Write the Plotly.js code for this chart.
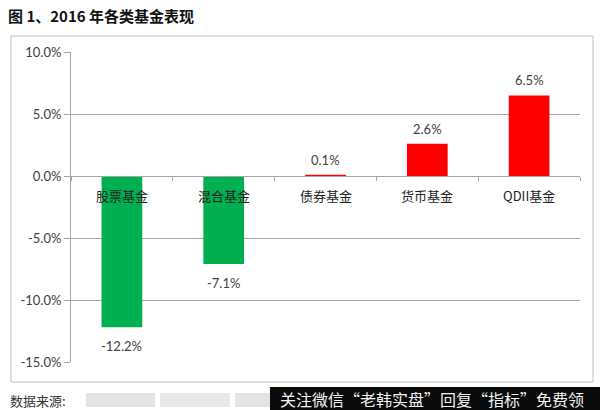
<!DOCTYPE html>
<html><head><meta charset="utf-8">
<script src="https://cdn.plot.ly/plotly-3.0.1.min.js"></script>
<style>html,body{margin:0;padding:0;background:#fff;}#chart{width:600px;height:410px;}</style>
</head><body><div id="chart"></div>
<script>
const categories = ['股票基金', '混合基金', '债券基金', '货币基金', 'QDII基金'];
const values = [-12.2, -7.1, 0.1, 2.6, 6.5];
const barColors = ['#00B050', '#00B050', '#FF0000', '#FF0000', '#FF0000'];
const yTicks = [-15, -10, -5, 0, 5, 10];
const yTickText = yTicks.map(v => v.toFixed(1) + '%');

const L = 71, R = 20, T = 52, B = 48, W = 600, H = 410;
const pw = W - L - R, ph = H - T - B;
const px = x => (x - L) / pw;
const py = y => (H - B - y) / ph;

const font = '"Noto Sans CJK SC", "Noto Sans", sans-serif';
const numFont = 'Lato, "Open Sans", sans-serif';

const trace = {
  type: 'bar', x: categories, y: values,
  marker: {color: barColors, line: {width: 0}},
  hoverinfo: 'skip'
};

const annotations = categories.map(c => ({
  x: c, y: 0, xref: 'x', yref: 'y', yshift: -19, showarrow: false,
  text: c, font: {size: 13, color: '#222', family: font}
}));
categories.forEach((c, i) => {
  const v = values[i];
  annotations.push({
    x: c, y: v, xref: 'x', yref: 'y', showarrow: false,
    yanchor: v >= 0 ? 'bottom' : 'top', yshift: v >= 0 ? 5 : -9,
    text: v.toFixed(1) + '%', font: {size: 13, color: '#404040', family: numFont}
  });
});
annotations.push({
  xref: 'paper', yref: 'paper', x: px(8), y: py(400), xanchor: 'left', yanchor: 'middle',
  showarrow: false, text: '数据来源:', font: {size: 13, color: '#333', family: font}
});
annotations.push({
  xref: 'paper', yref: 'paper', x: px(278), y: py(399), xanchor: 'left', yanchor: 'middle',
  showarrow: false, text: '关注微信“老韩实盘”回复“指标”免费领',
  font: {size: 16, color: '#f2f2f2', family: font}
});

const shapes = [
  {type: 'rect', xref: 'paper', yref: 'paper', x0: px(11), x1: px(593), y0: py(382), y1: py(36),
   line: {color: '#BFBFBF', width: 1}, fillcolor: 'rgba(0,0,0,0)', layer: 'below'},
  {type: 'rect', xref: 'paper', yref: 'paper', x0: px(86), x1: px(155), y0: py(407), y1: py(393),
   line: {width: 0}, fillcolor: '#E3E3E3'},
  {type: 'rect', xref: 'paper', yref: 'paper', x0: px(160), x1: px(230), y0: py(407), y1: py(393),
   line: {width: 0}, fillcolor: '#E8E8E8'},
  {type: 'rect', xref: 'paper', yref: 'paper', x0: px(235), x1: px(270), y0: py(407), y1: py(393),
   line: {width: 0}, fillcolor: '#E3E3E3'},
  {type: 'rect', xref: 'paper', yref: 'paper', x0: px(270), x1: px(600), y0: py(410), y1: py(387),
   line: {width: 0}, fillcolor: '#0a0a0a'}
];

const layout = {
  width: W, height: H,
  margin: {l: L, r: R, t: T, b: B},
  paper_bgcolor: '#fff', plot_bgcolor: '#fff',
  title: {text: '<b>图 1、2016 年各类基金表现</b>', x: 8 / W, xanchor: 'left', y: 1 - 17 / H, yanchor: 'middle',
          font: {size: 15, color: '#111', family: font}},
  bargap: 0.6,
  showlegend: false,
  xaxis: {
    type: 'category', anchor: 'free', position: py(176),
    showticklabels: false, showgrid: false, zeroline: false,
    showline: true, linecolor: '#A6A6A6', linewidth: 1,
    ticks: 'outside', tickson: 'boundaries', ticklen: 4, tickcolor: '#A6A6A6'
  },
  yaxis: {
    range: [-15, 10], tickvals: yTicks, ticktext: yTickText,
    showgrid: true, gridcolor: '#A6A6A6', gridwidth: 1,
    zeroline: false, showline: true, linecolor: '#A6A6A6', linewidth: 1,
    ticks: 'outside', ticklen: 6, tickcolor: '#A6A6A6',
    tickfont: {size: 13, color: '#404040', family: numFont}
  },
  annotations: annotations, shapes: shapes
};

Plotly.newPlot('chart', [trace], layout, {displayModeBar: false, staticPlot: true});
</script></body></html>
